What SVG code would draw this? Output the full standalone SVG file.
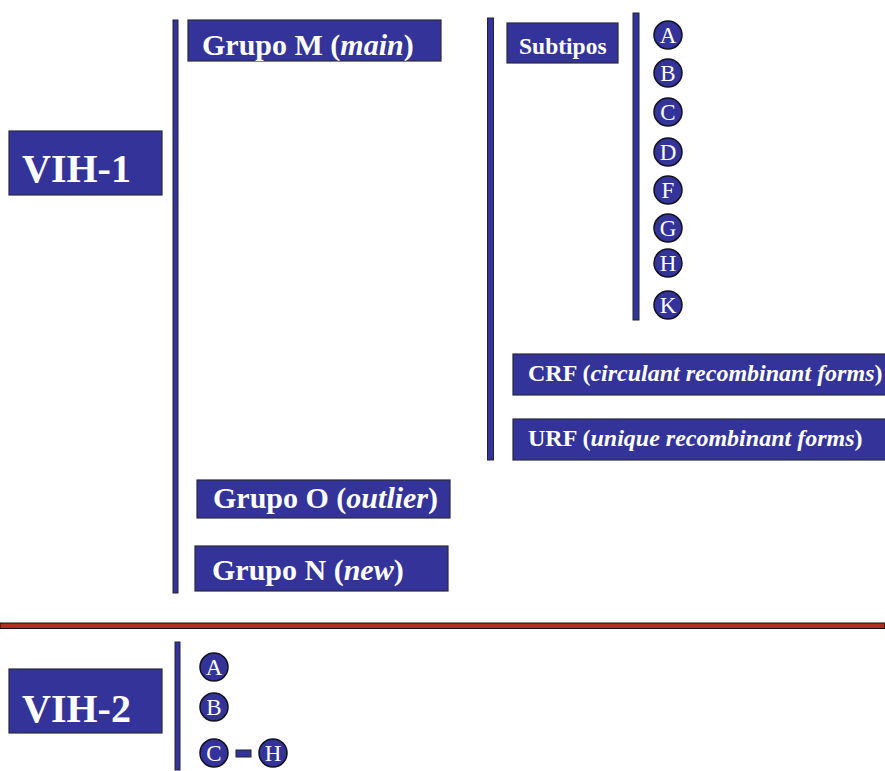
<svg xmlns="http://www.w3.org/2000/svg" width="885" height="771" viewBox="0 0 885 771">
<style>
.box{fill:#333399;stroke:#2a2a3a;stroke-width:1.2}
.bar{fill:#333399;stroke:#222233;stroke-width:1}
.t{font-family:"Liberation Serif","Times New Roman",serif;font-weight:bold;fill:#ffffff}
.c{fill:#333399;stroke:#111122;stroke-width:1.5}
.l{font-family:"Liberation Serif","Times New Roman",serif;fill:#ffffff;font-size:23px;text-anchor:middle}
</style>
<rect width="885" height="771" fill="#ffffff"/>
<g id="connectors">
<rect class="bar" x="173" y="20" width="5" height="573"/>
<rect class="bar" x="487.5" y="18" width="6" height="442"/>
<rect class="bar" x="633" y="13" width="6" height="307"/>
<rect class="bar" x="175" y="642" width="5" height="128"/>
<rect x="0" y="623" width="885" height="5.5" fill="#b03020" stroke="#111111" stroke-width="1"/>
<rect class="bar" x="236" y="750" width="15" height="7"/>
</g>
<g id="vih1"><rect class="box" x="9" y="131" width="153" height="64"/><text class="t" x="22" y="182" font-size="40">VIH-1</text></g>
<g id="grupoM"><rect class="box" x="188" y="20" width="253" height="41"/><text class="t" x="202" y="55" font-size="30">Grupo M (<tspan font-style="italic">main</tspan>)</text></g>
<g id="subtipos"><rect class="box" x="507" y="23" width="111" height="40"/><text class="t" x="519" y="54" font-size="23.5">Subtipos</text></g>
<g id="sA"><circle class="c" cx="668" cy="35" r="14"/><text class="l" x="668" y="43">A</text></g>
<g id="sB"><circle class="c" cx="668" cy="73" r="14"/><text class="l" x="668" y="81">B</text></g>
<g id="sC"><circle class="c" cx="668" cy="112" r="14"/><text class="l" x="668" y="120">C</text></g>
<g id="sD"><circle class="c" cx="668" cy="152" r="14"/><text class="l" x="668" y="160">D</text></g>
<g id="sF"><circle class="c" cx="668" cy="190" r="14"/><text class="l" x="668" y="198">F</text></g>
<g id="sG"><circle class="c" cx="668" cy="228" r="14"/><text class="l" x="668" y="236">G</text></g>
<g id="sH"><circle class="c" cx="668" cy="263" r="14"/><text class="l" x="668" y="271">H</text></g>
<g id="sK"><circle class="c" cx="668" cy="305" r="14"/><text class="l" x="668" y="313">K</text></g>
<g id="crf"><rect class="box" x="513" y="354" width="380" height="41"/><text class="t" x="528" y="381" font-size="24">CRF (<tspan font-style="italic">circulant recombinant forms</tspan>)</text></g>
<g id="urf"><rect class="box" x="513" y="419" width="380" height="41"/><text class="t" x="528" y="446" font-size="24">URF (<tspan font-style="italic">unique recombinant forms</tspan>)</text></g>
<g id="grupoO"><rect class="box" x="197" y="480" width="253" height="38"/><text class="t" x="213" y="508" font-size="30">Grupo O (<tspan font-style="italic">outlier</tspan>)</text></g>
<g id="grupoN"><rect class="box" x="195" y="546" width="253" height="45"/><text class="t" x="212" y="580" font-size="30">Grupo N (<tspan font-style="italic">new</tspan>)</text></g>
<g id="vih2"><rect class="box" x="9" y="669" width="153" height="64"/><text class="t" x="22" y="722" font-size="40">VIH-2</text></g>
<g id="v2A"><circle class="c" cx="214" cy="667" r="14"/><text class="l" x="214" y="675">A</text></g>
<g id="v2B"><circle class="c" cx="214" cy="707" r="14"/><text class="l" x="214" y="715">B</text></g>
<g id="v2C"><circle class="c" cx="214" cy="753" r="14"/><text class="l" x="214" y="761">C</text></g>
<g id="v2H"><circle class="c" cx="273" cy="753" r="14"/><text class="l" x="273" y="761">H</text></g>
</svg>
